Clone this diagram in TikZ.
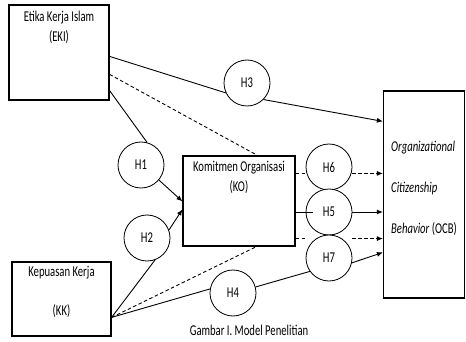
\documentclass[tikz,border=0pt]{standalone}
\usepackage{fontspec}
\setmainfont{Carlito}[FakeStretch=0.71]
\usetikzlibrary{arrows.meta, positioning, calc}

\begin{document}
\begin{tikzpicture}[x=1pt, y=-1pt, font=\fontsize{15}{20}\selectfont]

\tikzset{box/.style = {shape=rectangle, draw, line width=1.2pt, inner sep=0pt}}
\tikzset{hyp/.style = {shape=circle, draw, line width=0.8pt, fill=white, minimum size=46pt, inner sep=0pt}}
\tikzset{lbl/.style = {inner sep=0pt, align=center}}
\tikzset{link/.style = {line width=0.9pt}}
\tikzset{edge/.style = {link, ->, > = {Latex[length=6pt, width=5pt]}}}
\tikzset{mediate/.style = {link, dash pattern=on 3.5pt off 2.5pt}}

\useasboundingbox (0,0) rectangle (466,342);

% variables
\node[box, minimum width=100pt, minimum height=95pt] (eki) at (59,52.5) {};
\node[box, minimum width=99pt, minimum height=74pt] (kk) at (61.5,299) {};
\node[box, minimum width=112pt, minimum height=90pt] (ko) at (239,201) {};
\node[box, minimum width=81pt, minimum height=207pt] (ocb) at (424,194.5) {};
\node[lbl, below=6pt of eki.north] (ekitext) {Etika Kerja Islam\\(EKI)};
\node[lbl, below=5pt of kk.north] (kktext) {Kepuasan Kerja\\[18.5pt](KK)};
\node[lbl, below=6pt of ko.north] (kotext) {Komitmen Organisasi\\(KO)};
\node[lbl, align=left, anchor=north west, font=\fontsize{15}{41}\selectfont] (ocbtext) at (391,141)
  {\textit{Organizational}\\\textit{Citizenship}\\\textit{Behavior} (OCB)};

% hypotheses
\node[hyp] (h1) at (141,165) {H1};
\node[hyp] (h2) at (147,238) {H2};
\node[hyp] (h3) at (247,83) {H3};
\node[hyp] (h4) at (233,293) {H4};
\node[hyp] (h6) at (329,167) {H6};
\node[hyp] (h5) at (329,212) {H5};
\node[hyp] (h7) at (329,258) {H7};

\coordinate (kkout) at ($(kk.north east)+(0,56)$);
\coordinate (koupper) at ($(ko.north east)+(0,18)$);
\coordinate (kolower) at ($(ko.south east)+(0,-8)$);

% direct paths
\draw[link] ($(eki.north east)+(0,52)$) -- (h3.205);
\draw[edge] (h3.-45) -- ($(ocb.north west)+(0,31)$);
\draw[link] ($(eki.south east)+(0,-10)$) -- (h1.75);
\draw[edge] (h1.-40) -- ($(ko.north west)+(0,46)$);
\draw[link] (kkout) -- (h2.-70);
\draw[edge] (h2.20) -- ($(ko.north west)+(0,54)$);
\draw[link] (kkout) -- (h4.170);
\draw[link] (h4.15) -- (h7.215);
\draw[edge] (h7.-12) -- ($(ocb.north west)+(0,162)$);
\draw[link] (ko.east |- h5) -- ([xshift=7pt]h5.west);
\draw[edge] (h5.east) -- (h5 -| ocb.west);
% mediation
\draw[mediate] ($(eki.north east)+(0,70)$) -- ($(ko.north west)+(75,0)$);
\draw[mediate] (kkout) -- ($(ko.south west)+(74,0)$);
\draw[mediate] (koupper) -- (koupper -| h6.west);
\draw[mediate, ->, > = {Latex[length=6pt, width=5pt]}] (koupper -| h6.east) -- (koupper -| ocb.west);
\draw[mediate] (kolower) -- (kolower -| h7.west);
\draw[mediate, ->, > = {Latex[length=6pt, width=5pt]}] (kolower -| h7.east) -- (kolower -| ocb.west);

\node[lbl, anchor=base] (caption) at (249,335) {Gambar I. Model Penelitian};
\end{tikzpicture}
\end{document}
